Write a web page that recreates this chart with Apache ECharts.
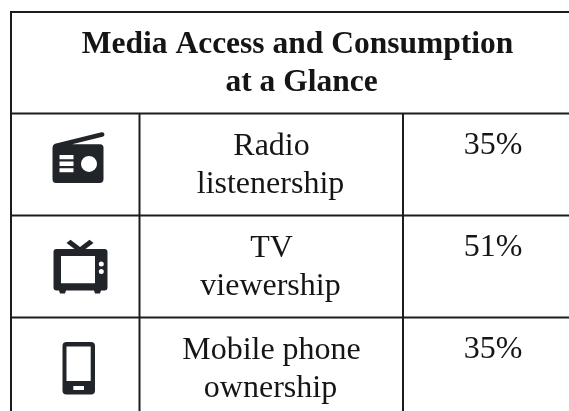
<!DOCTYPE html>
<html>
<head>
<meta charset="utf-8">
<title>Media Access and Consumption at a Glance</title>
<style>
html,body{margin:0;padding:0;background:#fff;}
#chart{width:569px;height:411px;}
</style>
<script src="https://cdn.jsdelivr.net/npm/echarts@6/dist/echarts.min.js"></script>
</head>
<body>
<div id="chart"></div>
<script>
var titleLines = ['Media Access and Consumption', 'at a Glance'];
var labelTop = ['Radio', 'TV', 'Mobile phone'];
var labelBottom = ['listenership', 'viewership', 'ownership'];
var percents = ['35%', '51%', '35%'];
var icons = ['radio', 'tv', 'phone'];

// table layout, in pixels
var colX = [11, 139.5, 403];
var rowY = [12, 113.5, 215.5, 317.5];
var right = 569, bottom = 411;
var fontFamily = '"Liberation Serif", "Times New Roman", serif';
var textColor = '#151515', lineColor = '#1c1c1c', iconColor = '#212529';

// icon outlines, drawn relative to the top of their row
var iconPaths = {
	radio: 'M55 30.5 L101.5 19 Q104 18.5 104.5 21 Q104.5 23 102.5 23.5 L72 31 L100 31 Q103.5 31 103.5 34.5 L103.5 65.5 Q103.5 69.5 99.5 69.5 L56 69.5 Q52.5 69.5 52.5 65.5 L52.5 34.5 Q52.5 31.5 55 30.5 Z'
		+ ' M59.5 41.5 L59.5 45.8 L73.5 45.8 L73.5 41.5 Z M59.5 48.2 L59.5 52.5 L73.5 52.5 L73.5 48.2 Z M59.5 54.8 L59.5 58.8 L73.5 58.8 L73.5 54.8 Z'
		+ ' M89 42.5 A8 8 0 1 0 89 58.5 A8 8 0 1 0 89 42.5 Z',
	tv: 'M66.5 27.5 L70.5 24.3 L80 31.5 L89.5 24.3 L93.5 27.5 L85.5 33.5 L104.5 33.5 Q107.5 33.5 107.5 36.5 L107.5 72 Q107.5 75 104.5 75 L101 75 L100 78 L95 78 L94 75 L66 75 L65 78 L60 78 L59 75 L56.5 75 Q53.5 75 53.5 72 L53.5 36.5 Q53.5 33.5 56.5 33.5 L74.5 33.5 Z'
		+ ' M61 40.5 L61 67.8 L95 67.8 L95 40.5 Z'
		+ ' M101.3 46 A2.5 2.5 0 1 0 101.3 51 A2.5 2.5 0 1 0 101.3 46 Z M101.3 53.5 A2.5 2.5 0 1 0 101.3 58.5 A2.5 2.5 0 1 0 101.3 53.5 Z',
	phone: 'M66.5 24.5 L91 24.5 Q95 24.5 95 28.5 L95 73 Q95 77 91 77 L66.5 77 Q62.5 77 62.5 73 L62.5 28.5 Q62.5 24.5 66.5 24.5 Z'
		+ ' M66.5 29 L66.5 63.5 L90.7 63.5 L90.7 29 Z M73.3 68.5 L73.3 72.5 L84 72.5 L84 68.5 Z'
};

function textEl(str, x, y, size, weight) {
	return {
		type: 'text',
		style: {
			text: str, x: x, y: y,
			align: 'center', verticalAlign: 'middle',
			fontFamily: fontFamily, fontSize: size, fontWeight: weight,
			fill: textColor
		}
	};
}

function lineEl(x1, y1, x2, y2) {
	return {
		type: 'line',
		shape: {x1: x1, y1: y1, x2: x2, y2: y2},
		style: {stroke: lineColor, lineWidth: 2}
	};
}

function iconBox(name) {
	if (name == 'radio') return [52.5, 18.7, 52, 50.8];
	if (name == 'tv') return [53.5, 24.3, 54, 53.7];
	return [62.5, 24.5, 32.5, 52.5];
}

function renderRow(params, api) {
	var i = api.value(0);
	var top = rowY[i + 1];
	var next = i + 2 < rowY.length ? rowY[i + 2] : bottom;
	var box = iconBox(icons[i]);
	return {
		type: 'group',
		children: [
			lineEl(colX[0], top, right, top),
			lineEl(colX[1], top, colX[1], next),
			lineEl(colX[2], top, colX[2], next),
			{
				type: 'path',
				shape: {
					pathData: iconPaths[icons[i]],
					layout: 'cover',
					x: box[0], y: top + box[1], width: box[2], height: box[3]
				},
				style: {fill: iconColor, fillRule: 'evenodd', stroke: null}
			},
			textEl(labelTop[i], 271.5, top + 33, 32, 'normal'),
			textEl(labelBottom[i], 270.5, top + 71, 32, 'normal'),
			textEl(percents[i], 493, top + 32.5, 32, 'normal')
		]
	};
}

function renderFrame() {
	return {
		type: 'group',
		children: [
			lineEl(colX[0], rowY[0], right, rowY[0]),
			lineEl(colX[0], rowY[0] - 1, colX[0], bottom),
			textEl(titleLines[0], 297.5, 45, 31.5, 'bold'),
			textEl(titleLines[1], 301.5, 82.5, 31.5, 'bold')
		]
	};
}

var myChart = echarts.init(document.getElementById('chart'), null, {renderer: 'canvas'});
var option = {
	animation: false,
	backgroundColor: '#fff',
	series: [
		{
			type: 'custom',
			coordinateSystem: 'none',
			silent: true,
			data: [0],
			renderItem: renderFrame
		},
		{
			type: 'custom',
			coordinateSystem: 'none',
			silent: true,
			data: labelTop.map(function(name, i) { return [i]; }),
			renderItem: renderRow
		}
	]
};
myChart.setOption(option, true);
</script>
</body>
</html>
